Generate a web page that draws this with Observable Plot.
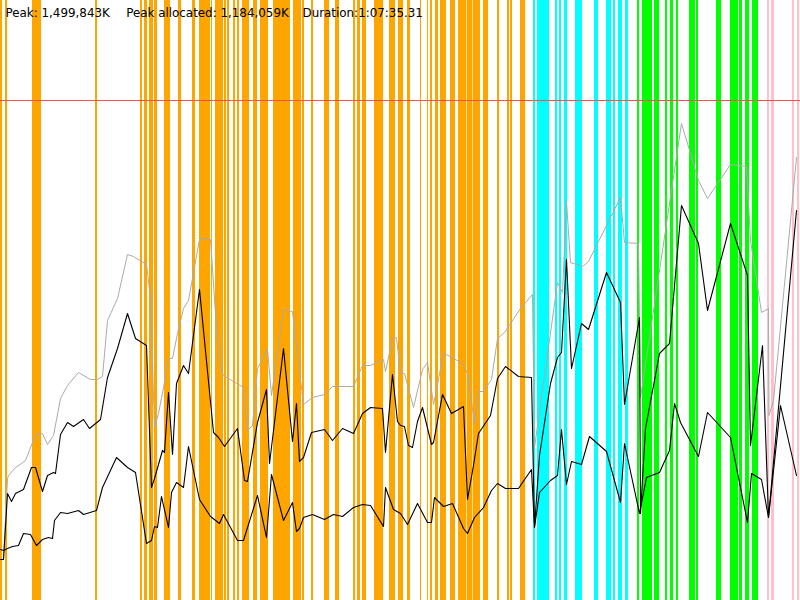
<!DOCTYPE html>
<html>
<head>
<meta charset="utf-8">
<script src="https://cdn.jsdelivr.net/npm/d3@7"></script>
<script src="https://cdn.jsdelivr.net/npm/@observablehq/plot@0.6"></script>
<style>
  html, body { margin: 0; padding: 0; background: #fff; }
  #chart svg { display: block; }
</style>
</head>
<body>
<div id="chart"></div>
<script>
// Header statistics
const headerText = "Peak: 1,499,843K\u00a0\u00a0\u00a0\u00a0\u200aPeak allocated: 1,184,059K\u00a0\u00a0\u00a0\u2009Duration:1:07:35.31";

// Time axis is in chart time units (0..800), memory in chart height units (0..600)
const timeDomain = [0, 800];
const memDomain = [0, 600];
const limitLevel = 500;

// Event stripes by phase [start, end]
const orangeStripes = [[0,2],[5,7],[32,41],[95,97],[140,142],[144,147],[149,153],[154,157],[164,170],[178,181],[192,195],[199,210],[211,212],[215,223],[224,226],[227,229],[233,235],[237,239],[242,249],[253,257],[260,268],[273,290],[293,301],[302,304],[311,313],[324,329],[335,339],[353,355],[357,360],[362,366],[374,383],[389,395],[398,403],[407,410],[420,421],[427,428],[430,432],[435,438],[440,446],[450,455],[458,466],[466.6,472],[472.6,480],[483,488],[497,499],[507,509],[510,512],[520,525]];
const cyanStripes = [[533,535],[537,549],[555,557],[559,561],[564,567],[575,582],[594,598],[606,611],[613,615],[618,622],[625,628]];
const greenStripes = [[637,639],[642,652],[654,659],[665,667],[670,673],[676,678],[689,695],[696,698],[716,721],[730,738],[739,742],[745,749],[752,758]];
const pinkStripes = [[767,769],[771,774],[792,794],[797,799]];

// Total heap (gray)
const totalT = [0,3,7,8,15,21,25,32,36,42,47,53,60,67,78,90,97,102,107,117,127,133,146,150,154,158,163,168,172,177,183,188,199,210,215,220,223,243,247,252,257,267,271,283,292,303,312,324,332,353,362,370,383,385,392,396,400,404,413,422,427,433,443,450,462,467,474,478,483,491,497,504,520,532,534,557,562,566,570,582,588,620,624,638,640,681,698,707,730,746,750,761,768,768.5,773,796];
const totalV = [41,41,122,125,133,137,140,158,166,167,156,165,202,215,228,221,221,224,280,302,346,344,336,302,173,187,213,242,242,267,292,300,361,361,287,233,225,213,170,175,232,251,205,291,289,196,203,206,214,214,235,235,241,229,262,263,227,227,193,231,238,196,247,244,237,227,177,209,209,221,262,268,292,306,153,318,308,399,338,334,339,403,358,357,203,477,420,402,436,434,360,288,292,185,200,443];

// Allocated (black upper)
const allocT = [0,3,7,11,15,23,31,35,42,47,53,55,60,67,73,83,89,100,107,117,127,135,146,151,154,162,164,168,172,176,183,188,199,213,218,224,237,244,247,257,266,269,283,292,296,299,303,311,324,332,342,353,362,370,382,385,392,397,400,404,408,412,417,422,431,433,442,451,463,467,473,478,490,497,505,518,531,534,539,550,557,561,566,571,581,588,606,620,624,639,640,645,659,669,681,698,707,730,747,750,762,768,796];
const allocV = [41,41,107,99,107,111,133,133,109,125,128,127,166,178,174,181,172,181,223,252,287,262,255,113,122,150,148,208,146,217,235,227,311,168,163,154,172,120,119,178,211,137,252,159,197,139,143,168,171,160,172,167,187,193,192,148,226,179,175,174,155,153,179,193,156,158,206,187,194,101,135,167,185,222,234,224,223,73,145,217,243,248,341,232,277,271,328,298,196,283,87,172,247,257,395,357,290,377,325,155,255,83,390];

// Live data (black lower)
const liveT = [0,3,7,12,18,23,30,36,42,48,52,54,60,67,78,83,96,102,116,127,135,146,151,154,157,161,168,171,176,183,188,199,210,219,223,237,243,257,266,271,283,292,296,299,303,312,324,333,342,353,362,370,383,385,393,400,407,417,427,431,434,443,452,463,467,474,483,491,497,505,518,520,531,534,539,550,557,561,566,571,581,589,606,620,624,639,646,659,669,674,680,698,707,730,747,751,761,768,780,796];
const liveV = [51,50,52,54,55,67,66,55,61,63,62,80,88,87,90,86,90,113,143,133,128,57,60,74,73,104,73,108,118,113,154,101,84,77,86,60,60,105,63,126,80,98,69,72,83,86,81,86,84,93,96,95,74,113,91,87,76,97,78,78,103,94,97,72,67,83,93,110,117,112,112,115,131,73,108,120,125,171,116,139,136,164,149,98,157,87,123,128,150,197,178,144,188,163,78,127,121,83,195,125];

const toStripes = (arr) => arr.map(([start, end]) => ({start, end}));
const toSeries = (ts, vs) => ts.map((t, i) => ({t, v: vs[i]}));

const chart = Plot.plot({
  width: 800,
  height: 600,
  margin: 0,
  style: {background: "#fff", fontFamily: "DejaVu Sans"},
  x: {domain: timeDomain, axis: null},
  y: {domain: memDomain, axis: null},
  marks: [
    Plot.barX(toStripes(orangeStripes), {x1: "start", x2: "end", fill: "#ffa500"}),
    Plot.barX(toStripes(cyanStripes), {x1: "start", x2: "end", fill: "#00ffff"}),
    Plot.barX(toStripes(greenStripes), {x1: "start", x2: "end", fill: "#00ff00"}),
    Plot.barX(toStripes(pinkStripes), {x1: "start", x2: "end", fill: "#ffc0cb"}),
    Plot.ruleY([limitLevel], {stroke: "#ff5050", strokeWidth: 1}),
    Plot.line(toSeries(totalT, totalV), {x: "t", y: "v", stroke: "#aaaaaa", strokeWidth: 1}),
    Plot.line(toSeries(allocT, allocV), {x: "t", y: "v", stroke: "#000", strokeWidth: 1.1}),
    Plot.line(toSeries(liveT, liveV), {x: "t", y: "v", stroke: "#000", strokeWidth: 1.1}),
    Plot.text([headerText], {text: d => d, frameAnchor: "top-left", textAnchor: "start", lineAnchor: "middle", dx: 5, dy: 13, fontSize: 11.9, fill: "#000", fontFamily: "DejaVu Sans"})
  ]
});
document.getElementById("chart").appendChild(chart);
</script>
</body>
</html>
